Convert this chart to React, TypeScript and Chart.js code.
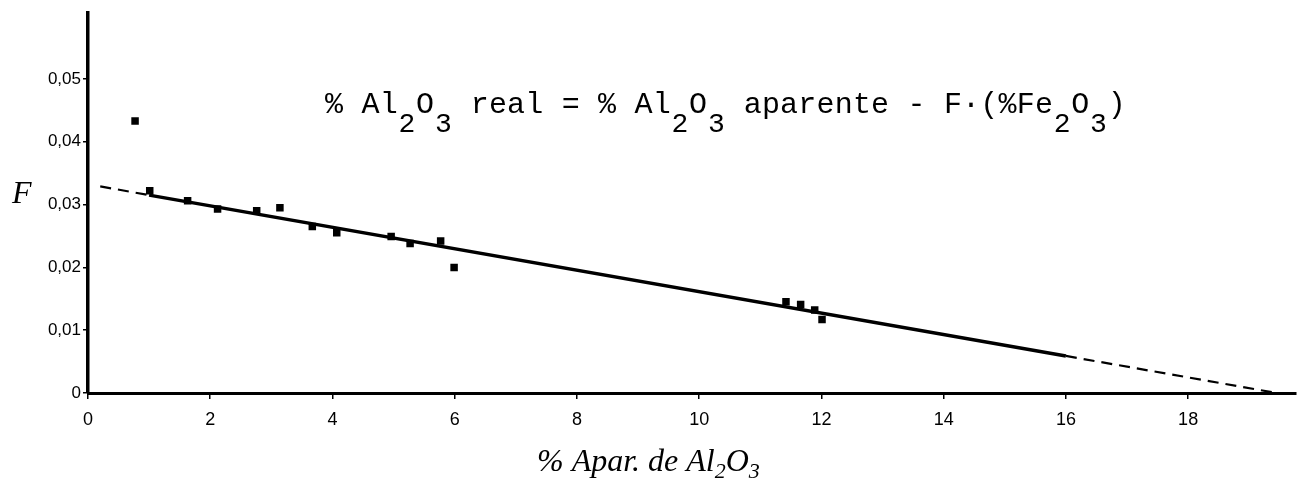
import React, { useEffect, useRef } from 'react';
import { Chart, registerables } from 'chart.js';

Chart.register(...registerables);

// Tick labels
const xTickValues = [0, 2, 4, 6, 8, 10, 12, 14, 16, 18];
const yTickValues = [0, 0.01, 0.02, 0.03, 0.04, 0.05];

// Measured samples: % apparent Al2O3 vs factor F
const sampleX = [0.77, 1.01, 1.63, 2.12, 2.76, 3.14, 3.67, 4.07, 4.96, 5.27, 5.77, 5.99, 11.42, 11.66, 11.89, 12.01];
const sampleF = [0.0433, 0.0322, 0.0306, 0.0293, 0.029, 0.0295, 0.0265, 0.0255, 0.0249, 0.0238, 0.0242, 0.02, 0.01454, 0.0141, 0.0132, 0.0117];

// Fitted line (dashed extrapolation, solid fit range, dashed extrapolation)
const fitX = [0.2, 1.0, 16, 19.45];
const fitF = [0.0329, 0.0315, 0.0059, 0];

// Equation text: [text, isSubscript]
const equationParts: [string, boolean][] = [
  ['% Al', false], ['2', true], ['O', false], ['3', true],
  [' real = % Al', false], ['2', true], ['O', false], ['3', true],
  [' aparente - F\u00B7(%Fe', false], ['2', true], ['O', false], ['3', true], [')', false],
];

const xTitleParts: [string, boolean][] = [
  ['% Apar. de Al', false], ['2', true], ['O', false], ['3', true],
];

const yTitle = 'F';

const annotationPlugin = {
  id: 'annotations',
  afterDraw(chart: any) {
    const ctx: CanvasRenderingContext2D = chart.ctx;
    ctx.save();
    ctx.fillStyle = '#000';
    // Equation, typewriter style
    const pitch = 18.2;
    let x = 325;
    const base = 113;
    ctx.textBaseline = 'alphabetic';
    ctx.textAlign = 'center';
    for (const [t, sub] of equationParts) {
      for (const ch of t) {
        ctx.font = sub ? '28px "Liberation Mono", monospace' : '30px "Liberation Mono", monospace';
        ctx.fillText(ch, x + pitch / 2, sub ? base + 19 : base);
        x += pitch;
      }
    }
    // X title
    ctx.textAlign = 'left';
    let tx = 537;
    const tb = 471;
    for (const [t, sub] of xTitleParts) {
      ctx.font = sub ? 'italic 22px "Liberation Serif", serif' : 'italic 32px "Liberation Serif", serif';
      const y = sub ? tb + 7 : tb;
      ctx.fillText(t, tx, y);
      tx += ctx.measureText(t).width;
    }
    // Y title
    ctx.font = 'italic 32px "Liberation Serif", serif';
    ctx.fillText(yTitle, 12, 203);
    ctx.restore();
  },
};

export default function App() {
  const ref = useRef<HTMLCanvasElement>(null);
  useEffect(() => {
    if (!ref.current) return;
    const points = sampleX.map((x, i) => ({ x, y: sampleF[i] }));
    const fit = fitX.map((x, i) => ({ x, y: fitF[i] }));
    const chart = new Chart(ref.current, {
      type: 'scatter',
      data: {
        datasets: [
          {
            type: 'line',
            data: fit,
            borderColor: '#000',
            pointRadius: 0,
            fill: false,
            tension: 0,
            segment: {
              borderDash: (c: any) => (c.p0DataIndex === 1 ? [] : [11, 7]),
              borderWidth: (c: any) => (c.p0DataIndex === 1 ? 3.5 : 2.2),
            },
          } as any,
          {
            type: 'scatter',
            data: points,
            pointStyle: 'rect',
            pointRadius: 5.3,
            backgroundColor: '#000',
            borderColor: '#000',
            borderWidth: 0,
          } as any,
        ],
      },
      options: {
        animation: false,
        responsive: false,
        maintainAspectRatio: false,
        layout: { padding: { top: 13, right: 0, left: 0, bottom: 0 } },
        plugins: { legend: { display: false }, tooltip: { enabled: false }, title: { display: false } },
        scales: {
          x: {
            type: 'linear',
            min: 0,
            max: 19.76,
            afterFit: (s: any) => { s.height = 86; },
            afterBuildTicks: (s: any) => { s.ticks = xTickValues.map((v) => ({ value: v })); },
            border: { display: true, color: '#000', width: 3 },
            grid: { drawOnChartArea: false, drawTicks: true, tickLength: 6, color: '#000', lineWidth: 1.5 },
            ticks: {
              autoSkip: false,
              maxRotation: 0,
              padding: 10,
              color: '#000',
              font: { family: '"Liberation Sans", Arial, sans-serif', size: 18 },
              callback: (v: any) => String(v),
            },
          },
          y: {
            type: 'linear',
            min: 0,
            max: 0.0605,
            afterFit: (s: any) => { s.width = 88; },
            afterBuildTicks: (s: any) => { s.ticks = yTickValues.map((v) => ({ value: v })); },
            border: { display: true, color: '#000', width: 3.5 },
            grid: { drawOnChartArea: false, drawTicks: true, tickLength: 5, color: '#000', lineWidth: 1.5 },
            ticks: {
              autoSkip: false,
              padding: 2,
              color: '#000',
              font: { family: '"Liberation Sans", Arial, sans-serif', size: 17 },
              callback: (v: any) => (v === 0 ? '0' : Number(v).toFixed(2).replace('.', ',')),
            },
          },
        },
      },
      plugins: [annotationPlugin],
    });
    return () => chart.destroy();
  }, []);
  return (
    <div style={{ position: 'absolute', left: 0, top: 0, width: 1301, height: 479, background: '#fff' }}>
      <canvas ref={ref} width={1301} height={479} style={{ display: 'block', width: 1301, height: 479 }} />
    </div>
  );
}
